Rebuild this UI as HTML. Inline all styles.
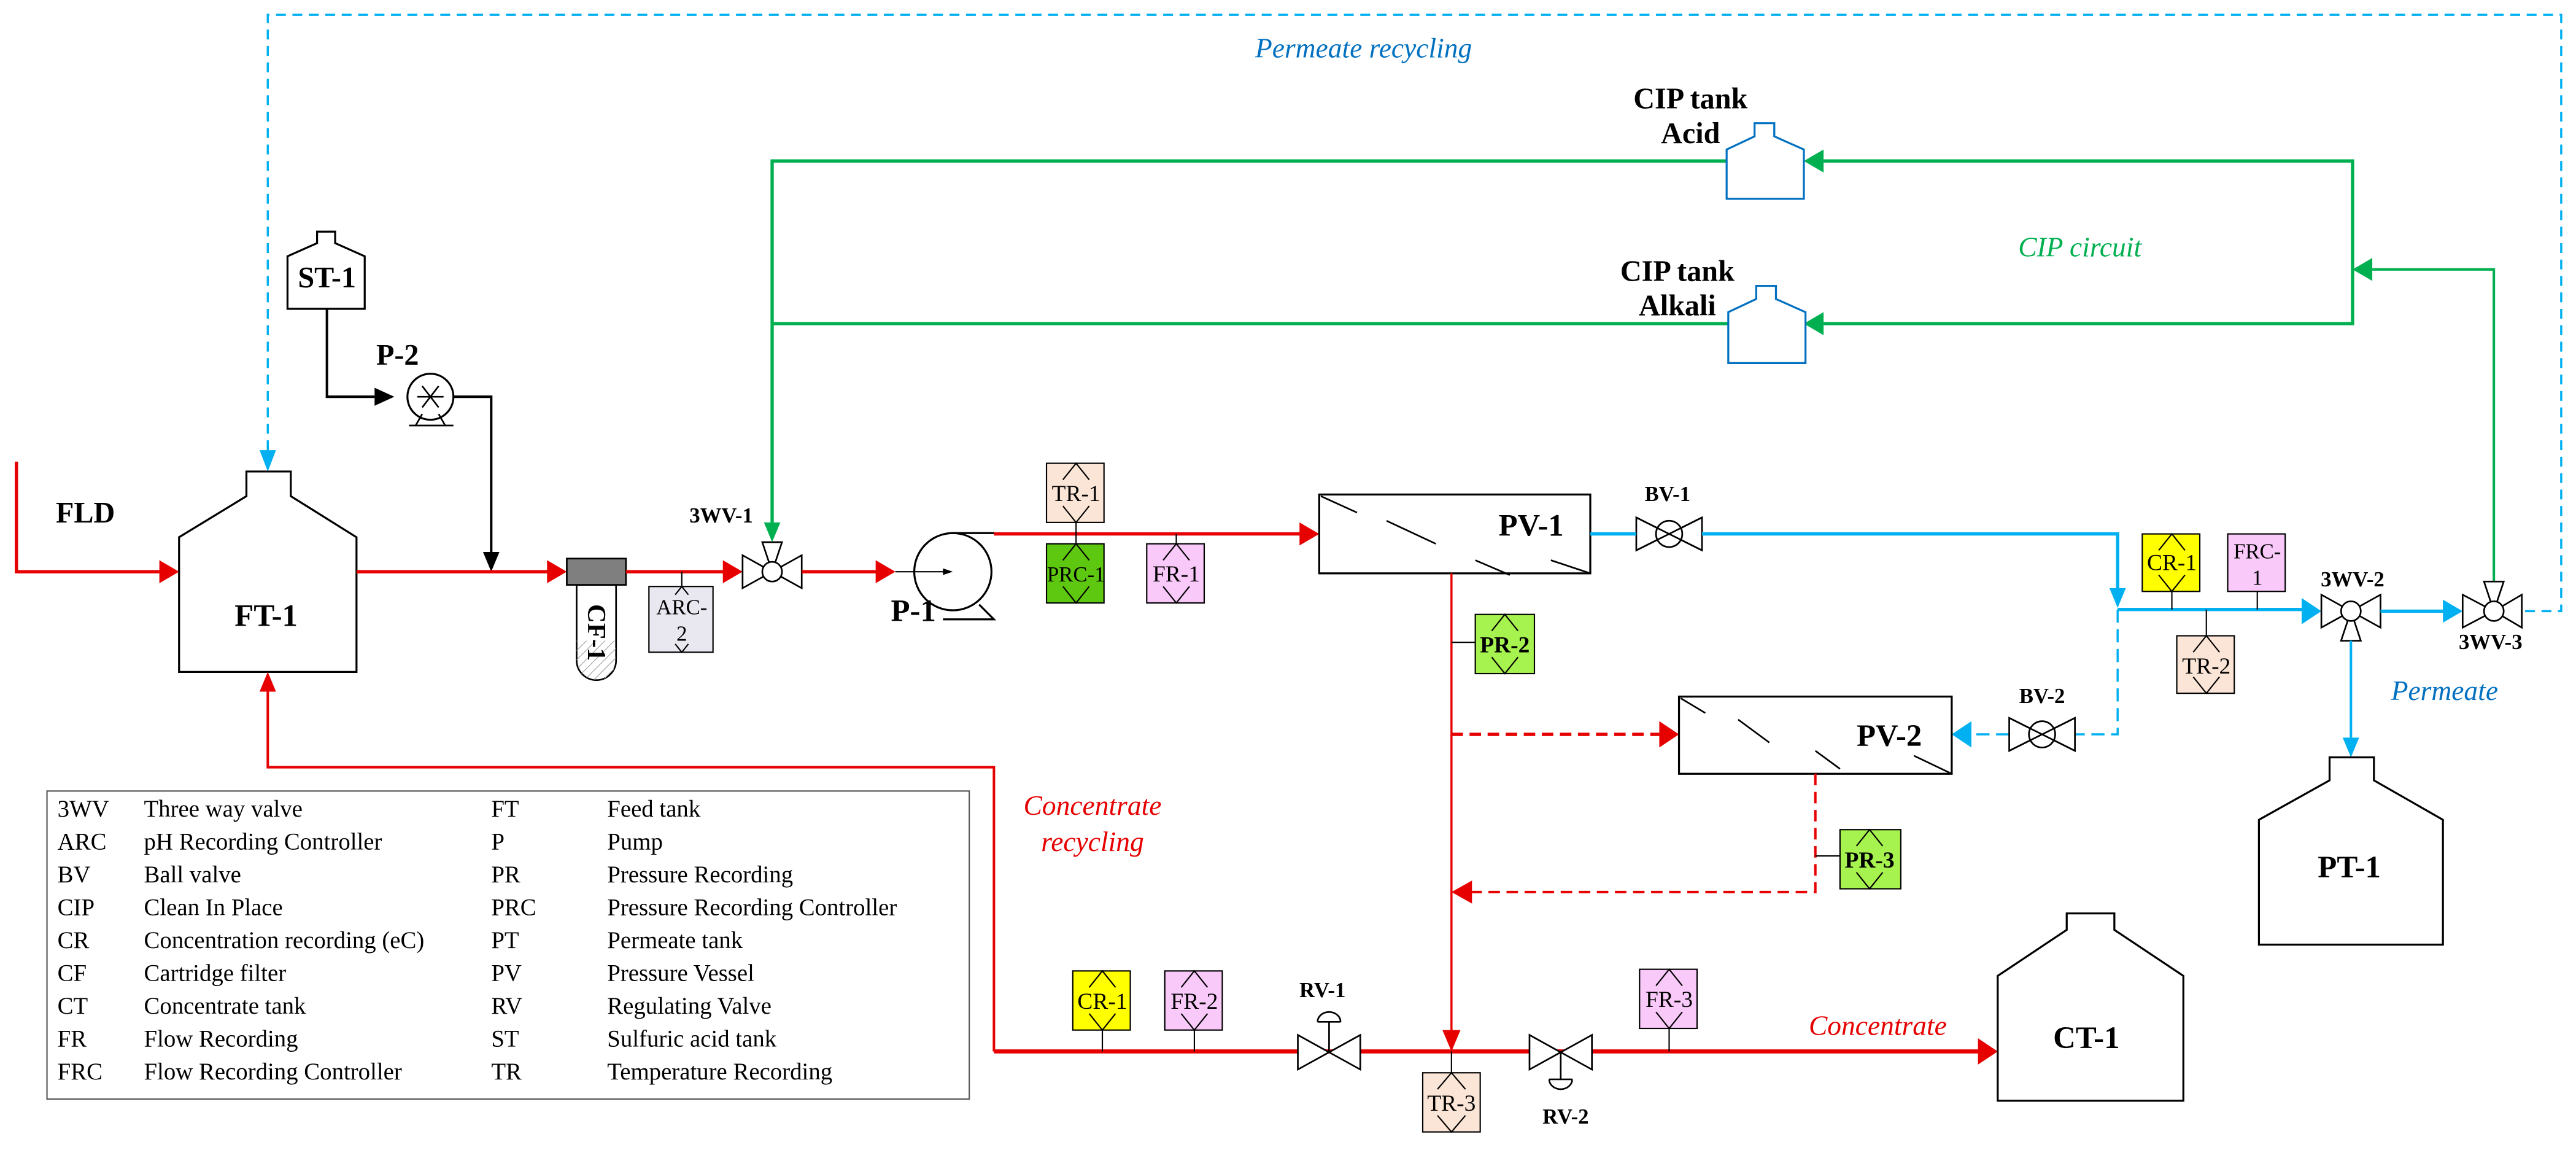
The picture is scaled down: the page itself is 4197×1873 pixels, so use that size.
<!DOCTYPE html>
<html><head><meta charset="utf-8"><style>
html,body{margin:0;padding:0;background:#fff;}
svg{display:block;}
text{font-family:"Liberation Serif",serif;}
</style></head><body>
<svg width="4197" height="1873" viewBox="0 0 1568 700" preserveAspectRatio="none" xmlns="http://www.w3.org/2000/svg">
<rect width="1568" height="700" fill="#fff"/>

<!-- Permeate recycling dashed -->
<path d="M163,274 V9 H1559 V372 H1535" fill="none" stroke="#00b0f0" stroke-width="1.3" stroke-dasharray="6,4"/>
<polygon points="158,274 168,274 163,287" fill="#00b0f0"/>
<text x="830" y="35" font-size="17" font-style="italic" fill="#0070c0" text-anchor="middle">Permeate recycling</text>

<!-- FLD -->
<path d="M10,281 V348 H98" fill="none" stroke="#e60000" stroke-width="2"/>
<polygon points="97,341 109,348 97,355" fill="#e60000"/>
<text x="34" y="318" font-size="18" font-weight="bold">FLD</text>

<!-- FT-1 -->
<polygon points="150,287 177,287 177,302 217,327 217,409 109,409 109,327 150,302" fill="#fff" stroke="#000" stroke-width="1.2"/>
<text x="162" y="381" font-size="19" font-weight="bold" text-anchor="middle">FT-1</text>

<!-- ST-1 + P-2 -->
<polygon points="193,141 204,141 204,148 222,156 222,188 175,188 175,156 193,148" fill="#fff" stroke="#000" stroke-width="1.2"/>
<text x="199" y="175" font-size="18" font-weight="bold" text-anchor="middle">ST-1</text>
<path d="M199,188 V241.5 H228" fill="none" stroke="#000" stroke-width="1.5"/>
<polygon points="228,236 240,241.5 228,247" fill="#000"/>
<circle cx="262" cy="241.5" r="14" fill="#fff" stroke="#000" stroke-width="1.2"/>
<path d="M254,241.5 H270 M257,235 L267,248 M267,235 L257,248" stroke="#000" stroke-width="1"/>
<path d="M253,259 L257,252 M271,259 L267,252 M249,259 H276" stroke="#000" stroke-width="1"/>
<text x="242" y="222" font-size="18" font-weight="bold" text-anchor="middle">P-2</text>
<path d="M276,241.5 H299 V336" fill="none" stroke="#000" stroke-width="1.5"/>
<polygon points="294,336 304,336 299,348" fill="#000"/>

<!-- main red line to CF -->
<path d="M217,348 H334" stroke="#e60000" stroke-width="2"/>
<polygon points="333,341 345,348 333,355" fill="#e60000"/>
<!-- CF-1 -->
<defs><pattern id="h" width="4" height="4" patternUnits="userSpaceOnUse" patternTransform="rotate(45)"><line x1="0" y1="0" x2="0" y2="4" stroke="#999" stroke-width="0.8"/></pattern></defs>
<path d="M351,356 V402 A12,12 0 0 0 375,402 V356 Z" fill="#fff" stroke="#000" stroke-width="1"/>
<path d="M351,390 V402 A12,12 0 0 0 375,402 V390 Z" fill="url(#h)"/>
<rect x="345" y="340" width="36" height="16" fill="#7f7f7f" stroke="#000" stroke-width="1"/>
<text x="0" y="0" font-size="16" font-weight="bold" text-anchor="middle" transform="translate(358,385) rotate(90)">CF-1</text>
<path d="M381,348 H441" stroke="#e60000" stroke-width="2"/>
<polygon points="440,341 452,348 440,355" fill="#e60000"/>
<!-- ARC-2 -->
<line x1="415" y1="348" x2="415" y2="357" stroke="#000" stroke-width="0.8"/>
<rect x="395" y="357" width="39" height="40" fill="#e9e7f0" stroke="#000" stroke-width="0.8"/>
<path d="M411,362 L415,357 L419,362 M411,392 L415,397 L419,392" fill="none" stroke="#000" stroke-width="0.8"/>
<text x="415" y="374" font-size="13" text-anchor="middle">ARC-</text>
<text x="415" y="390" font-size="13" text-anchor="middle">2</text>

<!-- 3WV-1 -->
<polygon points="452,338 452,358 470,348" fill="#fff" stroke="#000" stroke-width="1"/>
<polygon points="488,338 488,358 470,348" fill="#fff" stroke="#000" stroke-width="1"/>
<polygon points="464,330 476,330 470,348" fill="#fff" stroke="#000" stroke-width="1"/>
<circle cx="470" cy="348" r="6" fill="#fff" stroke="#000" stroke-width="1"/>
<text x="439" y="318" font-size="13" font-weight="bold" text-anchor="middle">3WV-1</text>
<path d="M488,348 H534" stroke="#e60000" stroke-width="2"/>
<polygon points="533,341 545,348 533,355" fill="#e60000"/>

<!-- P-1 -->
<circle cx="580" cy="348" r="23.5" fill="#fff" stroke="#000" stroke-width="1.2"/>
<path d="M545,348 H578" stroke="#000" stroke-width="0.8"/>
<polygon points="574,346 580,348 574,350" fill="#000"/>
<path d="M580,324.5 H605 M574,377 H605 L596,368" fill="none" stroke="#000" stroke-width="1.2"/>
<text x="556" y="378" font-size="19" font-weight="bold" text-anchor="middle">P-1</text>
<path d="M605,325 H792" stroke="#e60000" stroke-width="2"/>
<polygon points="791,318 803,325 791,332" fill="#e60000"/>

<!-- instruments along P-1 line -->
<line x1="655" y1="318" x2="655" y2="331" stroke="#000" stroke-width="0.8"/>
<line x1="716" y1="325" x2="716" y2="331" stroke="#000" stroke-width="0.8"/>
<g stroke="#000" stroke-width="0.8">
<rect x="637" y="282" width="35" height="36" fill="#fbe5d6"/>
<rect x="637" y="331" width="35" height="36" fill="#5dc80f"/>
<rect x="698" y="331" width="35" height="36" fill="#f9c9f9"/>
</g>
<path d="M647,292 L655,282 L663,292 M647,308 L655,318 L663,308 M647,341 L655,331 L663,341 M647,357 L655,367 L663,357 M708,341 L716,331 L724,341 M708,357 L716,367 L724,357" fill="none" stroke="#000" stroke-width="0.8"/>
<text x="655" y="305" font-size="14" text-anchor="middle">TR-1</text>
<text x="655" y="354" font-size="13" text-anchor="middle">PRC-1</text>
<text x="716" y="354" font-size="14" text-anchor="middle">FR-1</text>

<!-- Green CIP -->
<path d="M470,318 V98 H1051 M1110,98 H1432 V197 H1110 M1052,197 H470" fill="none" stroke="#00b050" stroke-width="2"/>
<polygon points="465,318 475,318 470,330" fill="#00b050"/>
<polygon points="1110,91 1098,98 1110,105" fill="#00b050"/>
<polygon points="1110,190 1098,197 1110,204" fill="#00b050"/>
<path d="M1518,354 V164 H1444" fill="none" stroke="#00b050" stroke-width="1.5"/>
<polygon points="1444,157 1432,164 1444,171" fill="#00b050"/>
<polygon points="1068,75 1080,75 1080,83 1098,91 1098,121 1051,121 1051,91 1068,83" fill="#fff" stroke="#0070c0" stroke-width="1.2"/>
<polygon points="1069,174 1081,174 1081,182 1099,190 1099,221 1052,221 1052,190 1069,182" fill="#fff" stroke="#0070c0" stroke-width="1.2"/>
<text x="1029" y="66" font-size="18" font-weight="bold" text-anchor="middle">CIP tank</text>
<text x="1029" y="87" font-size="18" font-weight="bold" text-anchor="middle">Acid</text>
<text x="1021" y="171" font-size="18" font-weight="bold" text-anchor="middle">CIP tank</text>
<text x="1021" y="192" font-size="18" font-weight="bold" text-anchor="middle">Alkali</text>
<text x="1266" y="156" font-size="17" font-style="italic" fill="#00b050" text-anchor="middle">CIP circuit</text>

<!-- PV-1 -->
<rect x="803" y="301" width="165" height="48" fill="#fff" stroke="#000" stroke-width="1.2"/>
<path d="M804,302 L826,312 M844,317 L874,331 M898,341 L919,350 M944,341 L968,349" stroke="#000" stroke-width="1"/>
<text x="932" y="326" font-size="19" font-weight="bold" text-anchor="middle">PV-1</text>

<!-- BV-1 -->
<polygon points="996,315 996,335 1036,315 1036,335" fill="#fff" stroke="#000" stroke-width="1"/>
<circle cx="1016" cy="325" r="8" fill="#fff" stroke="#000" stroke-width="1"/>
<path d="M996,315 L1036,335 M996,335 L1036,315" stroke="#000" stroke-width="1"/>
<text x="1015" y="305" font-size="13" font-weight="bold" text-anchor="middle">BV-1</text>
<path d="M968,325 H996 M1036,325 H1289 V359" fill="none" stroke="#00b0f0" stroke-width="2"/>
<polygon points="1284,358 1294,358 1289,370" fill="#00b0f0"/>
<path d="M1289,371 H1402" stroke="#00b0f0" stroke-width="2"/>
<polygon points="1401,364 1413,372 1401,380" fill="#00b0f0"/>
<!-- dashed cyan to PV-2 -->
<path d="M1289,371 V447 H1263 M1223,447 H1200" fill="none" stroke="#00b0f0" stroke-width="1.3" stroke-dasharray="8,4"/>
<polygon points="1200,439 1188,447 1200,455" fill="#00b0f0"/>
<polygon points="1223,437 1223,457 1263,437 1263,457" fill="#fff" stroke="#000" stroke-width="1"/>
<circle cx="1243" cy="447" r="8" fill="#fff" stroke="#000" stroke-width="1"/>
<path d="M1223,437 L1263,457 M1223,457 L1263,437" stroke="#000" stroke-width="1"/>
<text x="1243" y="428" font-size="13" font-weight="bold" text-anchor="middle">BV-2</text>

<!-- CR-1, FRC-1, TR-2 -->
<path d="M1322,360 V371 M1374,360 V371 M1343,371 V387" stroke="#000" stroke-width="0.8"/>
<g stroke="#000" stroke-width="0.8">
<rect x="1304" y="325" width="35" height="35" fill="#ffff00"/>
<rect x="1356" y="325" width="35" height="35" fill="#f9c9f9"/>
<rect x="1325" y="387" width="35" height="35" fill="#fbe5d6"/>
</g>
<path d="M1314,335 L1322,325 L1330,335 M1314,350 L1322,360 L1330,350 M1335,397 L1343,387 L1351,397 M1335,412 L1343,422 L1351,412" fill="none" stroke="#000" stroke-width="0.8"/>
<text x="1322" y="347" font-size="14" text-anchor="middle">CR-1</text>
<text x="1374" y="340" font-size="13" text-anchor="middle">FRC-</text>
<text x="1374" y="356" font-size="13" text-anchor="middle">1</text>
<text x="1343" y="410" font-size="14" text-anchor="middle">TR-2</text>

<!-- 3WV-2 -->
<polygon points="1413,362 1413,382 1431,372" fill="#fff" stroke="#000" stroke-width="1"/>
<polygon points="1449,362 1449,382 1431,372" fill="#fff" stroke="#000" stroke-width="1"/>
<polygon points="1425,390 1437,390 1431,372" fill="#fff" stroke="#000" stroke-width="1"/>
<circle cx="1431" cy="372" r="6" fill="#fff" stroke="#000" stroke-width="1"/>
<text x="1432" y="357" font-size="13" font-weight="bold" text-anchor="middle">3WV-2</text>
<path d="M1449,372 H1488" stroke="#00b0f0" stroke-width="2"/>
<polygon points="1487,365 1499,372 1487,379" fill="#00b0f0"/>
<!-- 3WV-3 -->
<polygon points="1499,362 1499,382 1518,372" fill="#fff" stroke="#000" stroke-width="1"/>
<polygon points="1535,362 1535,382 1518,372" fill="#fff" stroke="#000" stroke-width="1"/>
<polygon points="1512,354 1524,354 1518,372" fill="#fff" stroke="#000" stroke-width="1"/>
<circle cx="1518" cy="372" r="6" fill="#fff" stroke="#000" stroke-width="1"/>
<text x="1516" y="395" font-size="13" font-weight="bold" text-anchor="middle">3WV-3</text>
<path d="M1431,390 V449" stroke="#00b0f0" stroke-width="1.5"/>
<polygon points="1426,449 1436,449 1431,461" fill="#00b0f0"/>
<text x="1488" y="426" font-size="17" font-style="italic" fill="#0070c0" text-anchor="middle">Permeate</text>

<!-- PT-1 -->
<polygon points="1418,461 1445,461 1445,475 1487,499 1487,575 1375,575 1375,499 1418,475" fill="#fff" stroke="#000" stroke-width="1.2"/>
<text x="1430" y="534" font-size="19" font-weight="bold" text-anchor="middle">PT-1</text>

<!-- Concentrate vertical -->
<path d="M883.5,349 V628" stroke="#e60000" stroke-width="1.3"/>
<polygon points="878,627 889,627 883.5,640" fill="#e60000"/>
<line x1="883.5" y1="391" x2="898" y2="391" stroke="#000" stroke-width="0.8"/>
<rect x="898" y="374" width="36" height="36" fill="#a6f24e" stroke="#000" stroke-width="0.8"/>
<path d="M908,384 L916,374 L924,384 M908,400 L916,410 L924,400" fill="none" stroke="#000" stroke-width="0.8"/>
<text x="916" y="397" font-size="14" font-weight="bold" text-anchor="middle">PR-2</text>

<!-- PV-2 -->
<path d="M883.5,447 H1010" stroke="#e60000" stroke-width="2" stroke-dasharray="7,4"/>
<polygon points="1010,439 1022,447 1010,455" fill="#e60000"/>
<rect x="1022" y="424" width="166" height="47" fill="#fff" stroke="#000" stroke-width="1.2"/>
<path d="M1023,425 L1038,434 M1058,438 L1077,452 M1105,457 L1120,468 M1165,460 L1188,471" stroke="#000" stroke-width="1"/>
<text x="1150" y="454" font-size="19" font-weight="bold" text-anchor="middle">PV-2</text>
<path d="M1105,471 V543 H896" fill="none" stroke="#e60000" stroke-width="1.5" stroke-dasharray="7,4"/>
<polygon points="896,536 883.5,543 896,550" fill="#e60000"/>
<line x1="1105" y1="521" x2="1120" y2="521" stroke="#000" stroke-width="0.8"/>
<rect x="1120" y="505" width="37" height="36" fill="#a6f24e" stroke="#000" stroke-width="0.8"/>
<path d="M1130,515 L1138,505 L1146,515 M1130,531 L1138,541 L1146,531" fill="none" stroke="#000" stroke-width="0.8"/>
<text x="1138" y="528" font-size="14" font-weight="bold" text-anchor="middle">PR-3</text>

<!-- Concentrate recycling -->
<path d="M605,640 V467 H163 V421" fill="none" stroke="#e60000" stroke-width="1.5"/>
<polygon points="158,421 168,421 163,409" fill="#e60000"/>
<text x="665" y="496" font-size="17" font-style="italic" fill="#e60000" text-anchor="middle">Concentrate</text>
<text x="665" y="518" font-size="17" font-style="italic" fill="#e60000" text-anchor="middle">recycling</text>

<!-- bottom concentrate line -->
<path d="M605,640 H1205" stroke="#e60000" stroke-width="2.5"/>
<polygon points="1204,632 1216,640 1204,648" fill="#e60000"/>
<text x="1143" y="630" font-size="17" font-style="italic" fill="#e60000" text-anchor="middle">Concentrate</text>
<path d="M671,627 V640 M727,627 V640 M1016,626 V640 M883.5,640 V653" stroke="#000" stroke-width="0.8"/>
<g stroke="#000" stroke-width="0.8">
<rect x="653" y="591" width="35" height="36" fill="#ffff00"/>
<rect x="709" y="591" width="35" height="36" fill="#f9c9f9"/>
<rect x="998" y="590" width="35" height="36" fill="#f9c9f9"/>
<rect x="866" y="653" width="35" height="36" fill="#fbe5d6"/>
</g>
<path d="M663,601 L671,591 L679,601 M663,617 L671,627 L679,617 M719,601 L727,591 L735,601 M719,617 L727,627 L735,617 M1008,600 L1016,590 L1024,600 M1008,616 L1016,626 L1024,616 M875,663 L883.5,653 L892,663 M875,679 L883.5,689 L892,679" fill="none" stroke="#000" stroke-width="0.8"/>
<text x="671" y="614" font-size="14" text-anchor="middle">CR-1</text>
<text x="727" y="614" font-size="14" text-anchor="middle">FR-2</text>
<text x="1016" y="613" font-size="14" text-anchor="middle">FR-3</text>
<text x="883.5" y="676" font-size="14" text-anchor="middle">TR-3</text>
<!-- RV-1 -->
<polygon points="790,630 790,651 828,630 828,651" fill="#fff" stroke="#000" stroke-width="1"/>
<path d="M809,640 V622 M802,622 H816 M802,622 A7,6 0 0 1 816,622" fill="#fff" stroke="#000" stroke-width="1"/>
<text x="805" y="607" font-size="13" font-weight="bold" text-anchor="middle">RV-1</text>
<!-- RV-2 -->
<polygon points="931,630 931,651 969,630 969,651" fill="#fff" stroke="#000" stroke-width="1"/>
<path d="M950,640 V657 M943,657 H957 M943,657 A7,6 0 0 0 957,657" fill="#fff" stroke="#000" stroke-width="1"/>
<text x="953" y="684" font-size="13" font-weight="bold" text-anchor="middle">RV-2</text>

<!-- CT-1 -->
<polygon points="1258,556 1287,556 1287,566 1329,594 1329,670 1216,670 1216,594 1258,566" fill="#fff" stroke="#000" stroke-width="1.2"/>
<text x="1270" y="638" font-size="19" font-weight="bold" text-anchor="middle">CT-1</text>

<!-- Legend -->
<rect x="28.6" y="481.5" width="561.4" height="187.5" fill="#fff" stroke="#555" stroke-width="0.8"/>
<g font-size="14.5">
<text x="35" y="497">3WV</text><text x="87.6" y="497">Three way valve</text><text x="299" y="497">FT</text><text x="369.6" y="497">Feed tank</text>
<text x="35" y="517">ARC</text><text x="87.6" y="517">pH Recording Controller</text><text x="299" y="517">P</text><text x="369.6" y="517">Pump</text>
<text x="35" y="537">BV</text><text x="87.6" y="537">Ball valve</text><text x="299" y="537">PR</text><text x="369.6" y="537">Pressure Recording</text>
<text x="35" y="557">CIP</text><text x="87.6" y="557">Clean In Place</text><text x="299" y="557">PRC</text><text x="369.6" y="557">Pressure Recording Controller</text>
<text x="35" y="577">CR</text><text x="87.6" y="577">Concentration recording (eC)</text><text x="299" y="577">PT</text><text x="369.6" y="577">Permeate tank</text>
<text x="35" y="597">CF</text><text x="87.6" y="597">Cartridge filter</text><text x="299" y="597">PV</text><text x="369.6" y="597">Pressure Vessel</text>
<text x="35" y="617">CT</text><text x="87.6" y="617">Concentrate tank</text><text x="299" y="617">RV</text><text x="369.6" y="617">Regulating Valve</text>
<text x="35" y="637">FR</text><text x="87.6" y="637">Flow Recording</text><text x="299" y="637">ST</text><text x="369.6" y="637">Sulfuric acid tank</text>
<text x="35" y="657">FRC</text><text x="87.6" y="657">Flow Recording Controller</text><text x="299" y="657">TR</text><text x="369.6" y="657">Temperature Recording</text>
</g>
</svg>
</body></html>
